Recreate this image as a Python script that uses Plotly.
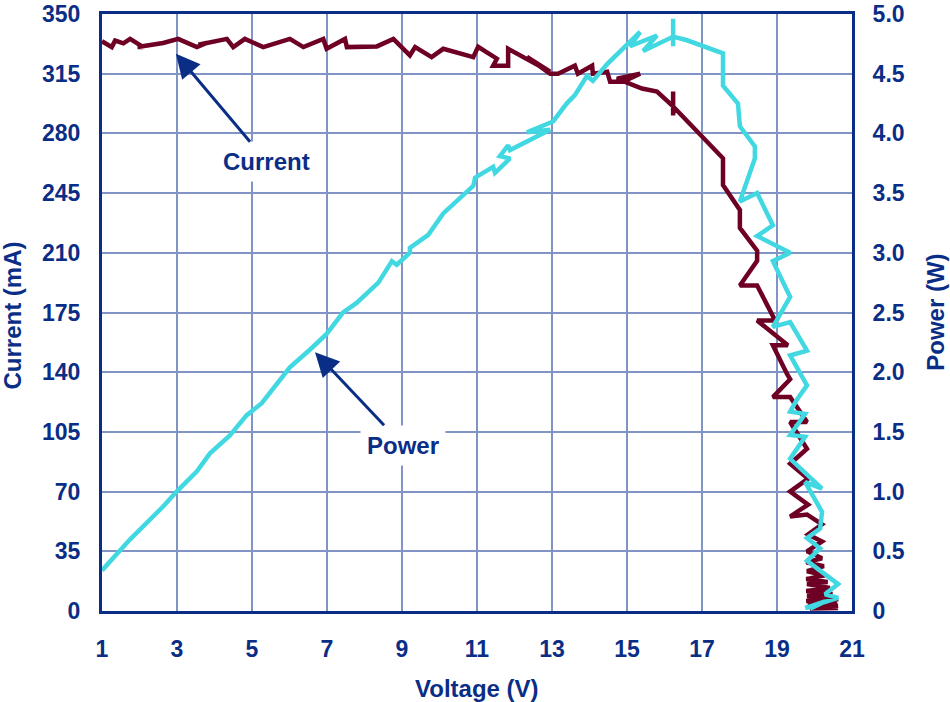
import plotly.graph_objects as go

# --- data (voltage in V, current in mA, power in W) ---
cur_v = [1.00, 1.26, 1.35, 1.57, 1.75, 2.10, 1.95, 2.63, 3.03, 3.53, 3.79, 3.57,
         4.33, 4.50, 4.81, 5.30, 5.66, 6.01, 6.37, 6.90, 6.99, 7.48, 7.53, 8.33,
         8.77, 8.99, 9.21, 9.35, 9.66, 9.79, 10.10, 10.90, 11.03, 11.53, 11.43, 11.83,
         11.83, 12.95, 12.33, 12.95, 13.16, 13.61, 13.69, 14.07, 14.09, 14.47, 14.55, 14.89,
         15.35, 14.73, 15.40, 15.80, 16.23, 16.23, 16.23, 16.23, 17.56, 17.56, 18.01, 18.01,
         18.47, 18.47, 18.01, 18.47, 18.95, 18.47, 19.29, 18.89, 19.27, 19.35, 18.89, 19.35,
         19.80, 19.35, 19.80, 19.35, 19.83, 19.35, 19.83, 19.35, 19.80, 20.20, 19.83, 20.20,
         19.80, 20.20, 19.78, 20.25, 19.80, 20.28, 19.78, 20.35, 19.80, 20.41, 19.78, 20.48,
         19.80, 20.55, 19.78, 20.60, 19.83, 20.63, 19.80, 20.63, 19.88, 20.63]
cur_ma = [334.0, 330.6, 334.4, 332.8, 335.4, 330.6, 330.6, 333.0, 335.4, 330.6, 333.0, 332.0,
          335.4, 330.6, 335.4, 330.6, 333.0, 335.4, 330.6, 335.4, 329.6, 335.4, 330.6, 331.0,
          335.4, 330.6, 325.7, 330.6, 326.7, 324.7, 329.6, 324.7, 330.8, 323.8, 319.7, 319.7,
          329.6, 316.2, 324.9, 315.0, 315.0, 319.7, 315.0, 319.7, 315.0, 316.2, 310.3, 310.3,
          315.0, 312.1, 306.3, 304.5, 295.8, 304.5, 290.5, 295.8, 265.4, 249.7, 235.1, 224.6,
          211.2, 205.3, 190.8, 190.8, 170.3, 170.3, 155.8, 155.8, 138.8, 135.9, 125.4, 125.4,
          110.8, 110.8, 95.1, 86.3, 77.6, 70.0, 62.4, 55.4, 56.6, 50.8, 44.9, 40.8,
          35.0, 30.9, 28.5, 26.3, 23.3, 21.0, 18.7, 17.0, 15.8, 13.5, 11.7, 10.0,
          8.8, 7.5, 5.8, 4.5, 3.5, 7.0, 2.3, 3.0, 1.5, 1.8]

pwr_v = [1.00, 1.75, 2.63, 2.99, 3.53, 3.88, 4.41, 4.86, 5.26, 5.66, 6.01, 6.55,
         6.99, 7.43, 7.79, 8.37, 8.73, 8.86, 9.21, 9.21, 9.70, 10.10, 10.90, 10.95,
         11.43, 11.48, 11.88, 11.61, 11.83, 11.88, 12.95, 12.33, 13.03, 13.39, 13.61, 13.93,
         14.09, 14.47, 15.35, 15.08, 15.80, 15.43, 16.23, 16.23, 16.23, 16.23, 16.60, 17.03,
         17.56, 17.56, 17.96, 18.01, 18.41, 18.41, 18.01, 18.47, 18.89, 18.47, 19.35, 18.89,
         19.27, 19.35, 18.89, 19.35, 19.80, 19.35, 19.80, 19.53, 19.35, 19.75, 19.35, 19.75,
         19.35, 20.20, 19.75, 20.20, 20.15, 19.80, 20.15, 19.80, 20.63, 20.28, 20.63, 19.75,
         20.28, 19.88]
pwr_w = [0.34, 0.60, 0.875, 1.00, 1.17, 1.32, 1.47, 1.64, 1.74, 1.90, 2.04, 2.19,
         2.32, 2.50, 2.58, 2.75, 2.93, 2.90, 3.00, 3.04, 3.15, 3.33, 3.56, 3.63,
         3.72, 3.67, 3.79, 3.81, 3.90, 3.86, 4.03, 4.01, 4.10, 4.25, 4.32, 4.48,
         4.44, 4.58, 4.85, 4.73, 4.82, 4.69, 4.81, 4.96, 4.73, 4.81, 4.78, 4.73,
         4.67, 4.40, 4.25, 4.06, 3.89, 3.79, 3.43, 3.50, 3.23, 3.14, 3.00, 2.93,
         2.69, 2.63, 2.38, 2.42, 2.18, 2.14, 1.89, 1.77, 1.67, 1.65, 1.475, 1.46,
         1.275, 1.025, 1.08, 0.83, 0.69, 0.61, 0.525, 0.42, 0.225, 0.14, 0.11, 0.025,
         0.08, 0.02]

x_ticks = [1, 3, 5, 7, 9, 11, 13, 15, 17, 19, 21]
y_ticks = [0, 35, 70, 105, 140, 175, 210, 245, 280, 315, 350]
y2_ticks = [0, 0.5, 1.0, 1.5, 2.0, 2.5, 3.0, 3.5, 4.0, 4.5, 5.0]
y2_labels = ["0", "0.5", "1.0", "1.5", "2.0", "2.5", "3.0", "3.5", "4.0", "4.5", "5.0"]

NAVY = "#0a2d86"
GRID = "#8094c6"
MAROON = "#6e0024"
CYAN = "#41d8e2"
FONT = "Liberation Sans, Arial, sans-serif"

fig = go.Figure()

fig.add_trace(go.Scatter(
    x=pwr_v, y=pwr_w, yaxis="y2", mode="lines",
    line=dict(color=CYAN, width=4.5), name="Power",
))
fig.add_trace(go.Scatter(
    x=cur_v, y=cur_ma, mode="lines",
    line=dict(color=MAROON, width=4.5), name="Current",
))

tickfont = dict(family=FONT, size=23, color=NAVY, weight="bold")
titlefont = dict(family=FONT, size=24, color=NAVY, weight="bold")

fig.update_layout(
    width=950, height=702,
    margin=dict(l=102, r=98, t=14, b=91, autoexpand=False),
    paper_bgcolor="white", plot_bgcolor="white",
    showlegend=False,
    xaxis=dict(
        range=[1, 21], tickvals=x_ticks, showgrid=True, gridcolor=GRID, gridwidth=2,
        showline=True, linecolor=NAVY, linewidth=3, mirror=True, automargin=False,
        tickfont=tickfont, ticks="", ticklabelstandoff=15, zeroline=False,
        ticklabeloverflow="allow",
    ),
    yaxis=dict(
        range=[0, 350], tickvals=y_ticks, showgrid=True, gridcolor=GRID, gridwidth=2,
        showline=True, linecolor=NAVY, linewidth=3, mirror=True, automargin=False,
        tickfont=tickfont, ticks="", ticklabelstandoff=14, zeroline=False,
        ticklabeloverflow="allow",
    ),
    yaxis2=dict(
        range=[0, 5], tickvals=y2_ticks, ticktext=y2_labels, overlaying="y", side="right",
        showgrid=False, showline=True, linecolor=NAVY, linewidth=3, automargin=False,
        tickfont=tickfont, ticks="", ticklabelstandoff=13, zeroline=False,
        ticklabeloverflow="allow",
    ),
    annotations=[
        # axis titles
        dict(text="Voltage (V)", xref="paper", yref="paper", x=0.5, y=-0.13,
             showarrow=False, font=titlefont, yanchor="middle"),
        dict(text="Current (mA)", xref="paper", yref="paper", x=-0.12, y=0.495,
             showarrow=False, font=titlefont, textangle=-90, xanchor="center"),
        dict(text="Power (W)", xref="paper", yref="paper", x=1.111, y=0.5,
             showarrow=False, font=titlefont, textangle=-90, xanchor="center"),
        # callouts
        dict(text="Current", x=2.97, y=326.7, xref="x", yref="y", ax=91, ay=108,
             showarrow=True, arrowhead=2, arrowsize=1.6, arrowwidth=3, arrowcolor=NAVY,
             font=dict(family=FONT, size=24, color=NAVY, weight="bold"),
             bgcolor="white", borderpad=6),
        dict(text="Power", x=6.68, y=151.7, xref="x", yref="y", ax=88, ay=93,
             showarrow=True, arrowhead=2, arrowsize=1.6, arrowwidth=3, arrowcolor=NAVY,
             font=dict(family=FONT, size=24, color=NAVY, weight="bold"),
             bgcolor="white", borderpad=6),
    ],
)

# the page body has a default 8px margin; drop it so the figure sits at the corner
fig.write_html("out.html", config={"displayModeBar": False},
               post_script="document.body.style.margin='0';")
